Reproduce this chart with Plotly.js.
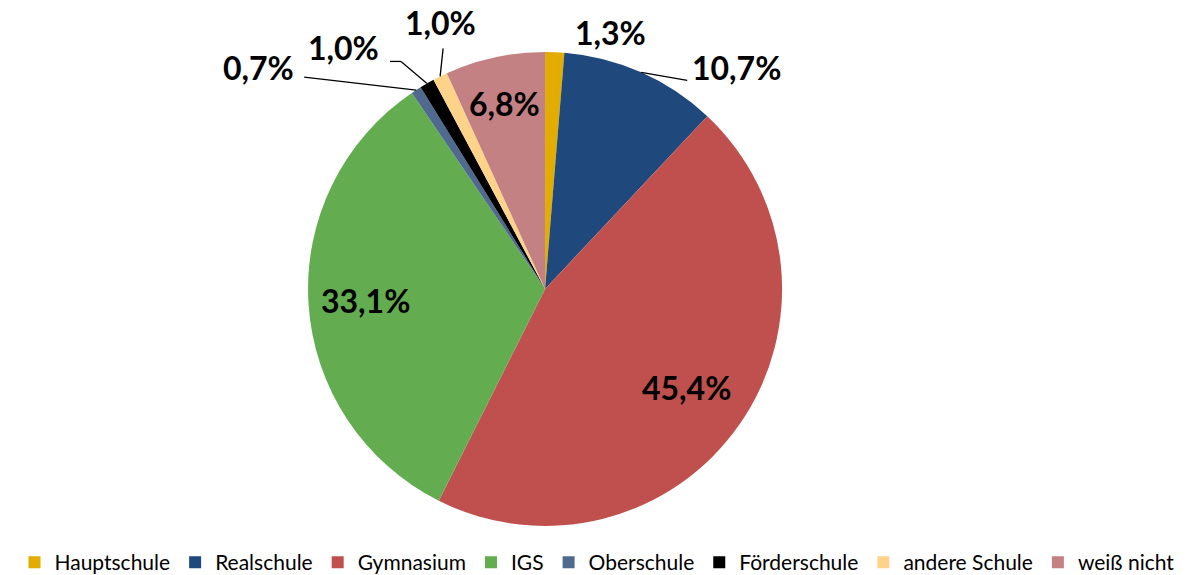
<!DOCTYPE html>
<html><head><meta charset="utf-8">
<script src="https://cdn.plot.ly/plotly-3.0.1.min.js"></script>
<style>html,body{margin:0;padding:0;background:#fff}#chart{width:1194px;height:575px}</style>
</head><body><div id="chart"></div>
<script>
const categories = ["Hauptschule","Realschule","Gymnasium","IGS","Oberschule","Förderschule","andere Schule","weiß nicht"];
const shares = [1.3, 10.7, 45.4, 33.1, 0.7, 1.0, 1.0, 6.8];
const colors = ["#E2AC00","#1F497D","#C0504D","#63AC50","#4F6A8E","#000000","#FDD38A","#C48183"];

// label placement styles (pixel offsets from the slice edge point, or radius fraction for inside labels)
const labelStyle = {
  "Hauptschule":   {text: [56, -20]},
  "Realschule":    {line: [[46, 8]], text: [95, -5]},
  "Gymnasium":     {inside: 0.73},
  "IGS":           {inside: 0.76},
  "Oberschule":    {line: [[-112, -13]], text: [-158, -23]},
  "Förderschule":  {line: [[-26, -22], [-37, -22]], text: [-83, -36]},
  "andere Schule": {line: [[3, -28]], text: [0, -54]},
  "weiß nicht":    {inside: 0.8}
};

const W = 1194, H = 575;
const dom = {x: [0.258, 0.655], y: [0.085, 0.91]};
const cx = (dom.x[0] + dom.x[1]) / 2 * W;
const cy = (1 - (dom.y[0] + dom.y[1]) / 2) * H;
const R = Math.min((dom.x[1] - dom.x[0]) * W, (dom.y[1] - dom.y[0]) * H) / 2;

const total = shares.reduce((a, b) => a + b, 0);
const fmt = v => v.toFixed(1).replace(".", ",") + "%";
const px = x => x / W, py = y => 1 - y / H;
const labelFont = {family: "Lato, sans-serif", size: 32, color: "#000", weight: "bold"};

const annotations = [], shapes = [];
let cum = 0;
categories.forEach((cat, i) => {
  const mid = (cum + shares[i] / 2) / total * 2 * Math.PI;
  cum += shares[i];
  const sx = Math.sin(mid), sy = -Math.cos(mid);
  const st = labelStyle[cat];
  let tx, ty;
  if (st.inside) {
    tx = cx + sx * R * st.inside; ty = cy + sy * R * st.inside;
  } else {
    const ex = cx + sx * R, ey = cy + sy * R;
    let prev = [ex, ey];
    (st.line || []).forEach(p => {
      const q = [ex + p[0], ey + p[1]];
      shapes.push({type: "line", xref: "paper", yref: "paper",
        x0: px(prev[0]), y0: py(prev[1]), x1: px(q[0]), y1: py(q[1]),
        line: {color: "#000", width: 1.3}});
      prev = q;
    });
    tx = ex + st.text[0]; ty = ey + st.text[1];
  }
  annotations.push({xref: "paper", yref: "paper", x: px(tx), y: py(ty),
    xanchor: "center", yanchor: "middle", showarrow: false,
    text: fmt(shares[i]), font: labelFont});
});

const trace = {
  type: "pie",
  labels: categories,
  values: shares,
  sort: false,
  direction: "clockwise",
  rotation: 0,
  marker: {colors: colors, line: {width: 0}},
  textinfo: "none",
  hoverinfo: "label+percent",
  domain: dom,
  automargin: false
};
const layout = {
  width: W, height: H,
  margin: {l: 0, r: 0, t: 0, b: 0, autoexpand: false},
  separators: ",.",
  paper_bgcolor: "#fff",
  showlegend: true,
  annotations: annotations,
  shapes: shapes,
  legend: {orientation: "h", x: 0.5, xanchor: "center", y: -0.014, yanchor: "bottom",
    font: {family: "Lato, sans-serif", size: 21, color: "#000"}, traceorder: "normal",
    itemwidth: 30, tracegroupgap: 0}
};
Plotly.newPlot("chart", [trace], layout, {displayModeBar: false});
</script></body></html>
